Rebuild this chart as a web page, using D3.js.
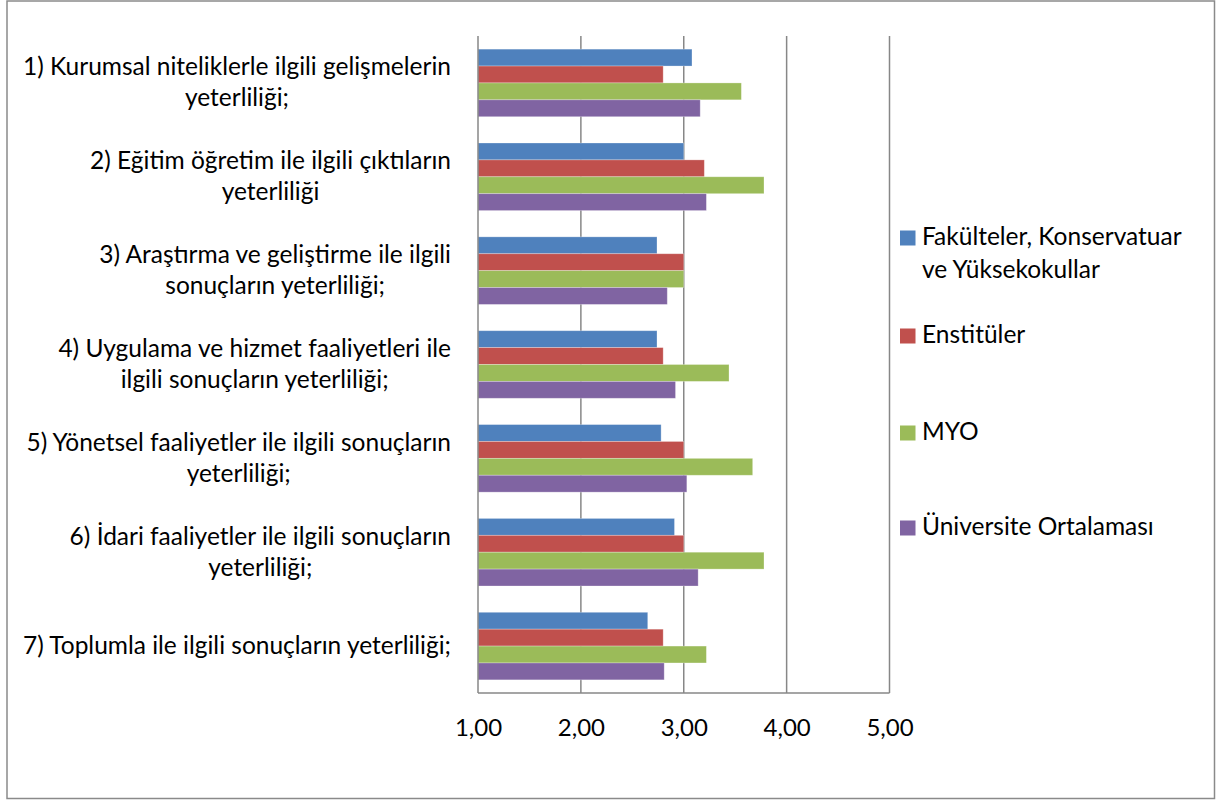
<!DOCTYPE html>
<html>
<head>
<meta charset="utf-8">
<script src="https://cdn.jsdelivr.net/npm/d3@7"></script>
<style>
  html, body { margin: 0; padding: 0; background: #fff; }
  svg { display: block; }
  text { font-family: Lato, "Noto Sans", sans-serif; fill: #000; }
</style>
</head>
<body>
<svg id="chart" width="1216" height="800"></svg>
<script>
const categories = [
  ["1) Kurumsal niteliklerle ilgili gelişmelerin", "yeterliliği;"],
  ["2) Eğitim öğretim ile ilgili çıktıların", "yeterliliği"],
  ["3) Araştırma ve geliştirme ile ilgili", "sonuçların yeterliliği;"],
  ["4) Uygulama ve hizmet faaliyetleri ile", "ilgili sonuçların yeterliliği;"],
  ["5) Yönetsel faaliyetler ile ilgili sonuçların", "yeterliliği;"],
  ["6) İdari faaliyetler ile ilgili sonuçların", "yeterliliği;"],
  ["7) Toplumla ile ilgili sonuçların yeterliliği;"]
];
const seriesNames = [
  ["Fakülteler, Konservatuar", "ve Yüksekokullar"],
  ["Enstitüler"],
  ["MYO"],
  ["Üniversite Ortalaması"]
];
const fakulteler = [3.08, 3.00, 2.74, 2.74, 2.78, 2.91, 2.65];
const enstituler = [2.80, 3.20, 3.00, 2.80, 3.00, 3.00, 2.80];
const myo        = [3.56, 3.78, 3.00, 3.44, 3.67, 3.78, 3.22];
const ortalama   = [3.16, 3.22, 2.84, 2.92, 3.03, 3.14, 2.81];
const seriesValues = [fakulteler, enstituler, myo, ortalama];
const xTicks = [1, 2, 3, 4, 5];
const xTickLabels = ["1,00", "2,00", "3,00", "4,00", "5,00"];
const colors = ["#4F81BD", "#C0504D", "#9BBB59", "#8064A2"];

const svg = d3.select("#chart");
const FS = 24.5;

// outer border
svg.append("rect")
  .attr("x", 7).attr("y", 1).attr("width", 1207.5).attr("height", 797.5)
  .attr("fill", "#fff").attr("stroke", "#8a8a8a").attr("stroke-width", 1.5);

const plot = { left: 478, right: 889.5, top: 36, bottom: 693 };

const x = d3.scaleLinear().domain([1, 5]).range([plot.left, plot.right]);
const y = d3.scaleBand().domain(d3.range(categories.length)).range([plot.top, plot.bottom]).padding(0);
const gapFrac = 0.28;
const ys = d3.scaleBand().domain(d3.range(seriesValues.length))
  .range([y.bandwidth() * gapFrac / 2, y.bandwidth() * (1 - gapFrac / 2)]).padding(0);

// gridlines (vertical)
svg.append("g").selectAll("line").data(xTicks.slice(1)).join("line")
  .attr("x1", d => x(d)).attr("x2", d => x(d))
  .attr("y1", plot.top).attr("y2", plot.bottom)
  .attr("stroke", "#878787").attr("stroke-width", 1.5);

// bars
const groups = svg.append("g").selectAll("g").data(categories).join("g")
  .attr("transform", (d, i) => `translate(0,${y(i)})`);
groups.each(function(d, ci) {
  d3.select(this).selectAll("rect").data(seriesValues.map((s, si) => ({ si, v: s[ci] }))).join("rect")
    .attr("x", x(1))
    .attr("y", e => ys(e.si))
    .attr("width", e => x(e.v) - x(1))
    .attr("height", ys.bandwidth())
    .attr("fill", e => colors[e.si])
    .attr("stroke", "rgba(255,255,255,0.35)")
    .attr("stroke-width", 0.8);
});

// axes lines
svg.append("line").attr("x1", plot.left).attr("x2", plot.left).attr("y1", plot.top).attr("y2", plot.bottom)
  .attr("stroke", "#878787").attr("stroke-width", 1.5);
svg.append("line").attr("x1", plot.left).attr("x2", plot.right).attr("y1", plot.bottom).attr("y2", plot.bottom)
  .attr("stroke", "#878787").attr("stroke-width", 1.5);

// x tick labels
const xAxis = d3.axisBottom(x).tickValues(xTicks).tickFormat((d, i) => xTickLabels[i]).tickSize(0).tickPadding(0);
const gx = svg.append("g").attr("transform", `translate(0,${plot.bottom})`).call(xAxis);
gx.select(".domain").remove();
gx.selectAll("text").attr("font-family", "Lato, sans-serif").attr("font-size", 24).attr("fill", "#000")
  .attr("dy", null).attr("y", 43);

// category labels
const labelRight = 451;
const lineH = 31;
svg.append("g").selectAll("g").data(categories).join("g")
  .each(function(lines, i) {
    const g = d3.select(this);
    const cy = y(i) + y.bandwidth() / 2;
    const texts = g.selectAll("text").data(lines).join("text")
      .attr("font-size", FS)
      .attr("text-anchor", "middle")
      .attr("y", (l, k) => cy + (k - (lines.length - 1) / 2) * lineH + 8)
      .text(l => l);
    const w = d3.max(texts.nodes(), n => n.getComputedTextLength());
    texts.attr("x", labelRight - w / 2);
  });

// legend
const legendX = 900;
const legendBaselines = [245, 343, 440, 535];
const legend = svg.append("g").selectAll("g").data(seriesNames).join("g");
legend.append("rect")
  .attr("x", legendX).attr("y", (d, i) => legendBaselines[i] - 14.5)
  .attr("width", 15.5).attr("height", 15)
  .attr("fill", (d, i) => colors[i]);
legend.each(function(lines, i) {
  d3.select(this).selectAll("text").data(lines).join("text")
    .attr("x", legendX + 22)
    .attr("y", (l, k) => legendBaselines[i] + k * 33)
    .attr("font-size", FS)
    .text(l => l);
});
</script>
</body>
</html>
